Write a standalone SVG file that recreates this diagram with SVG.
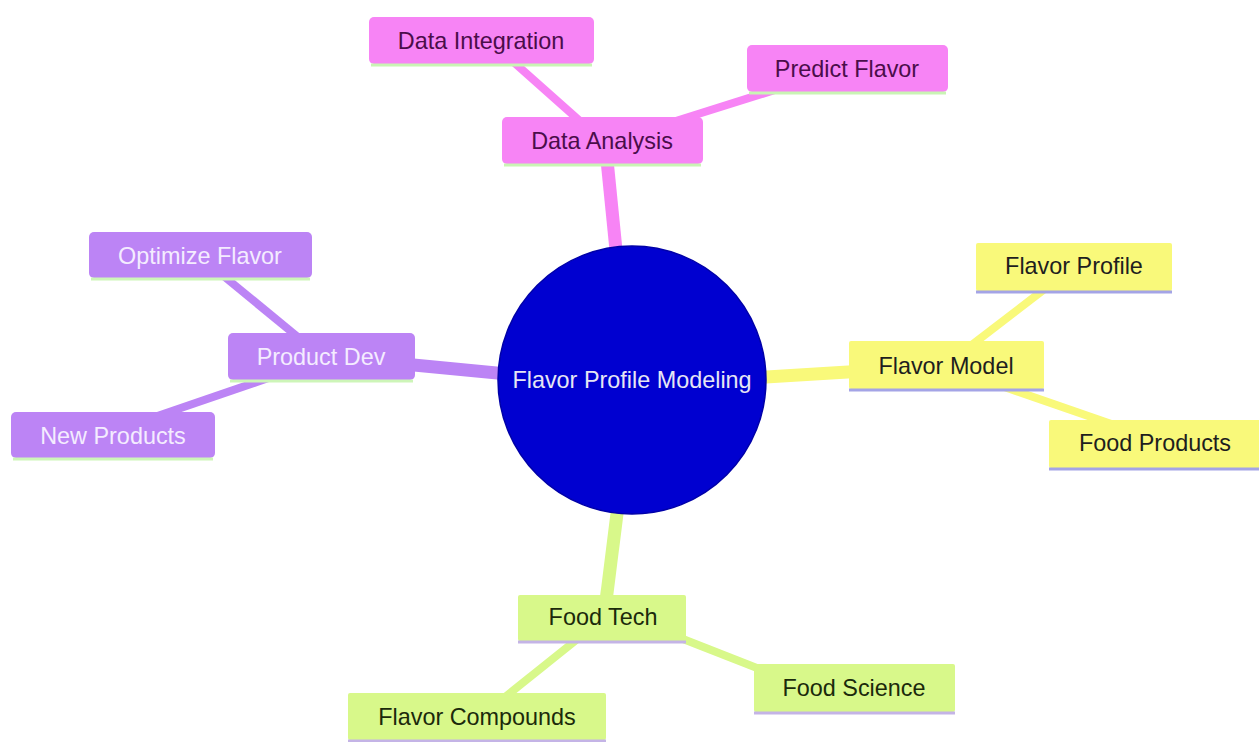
<svg xmlns="http://www.w3.org/2000/svg" width="1259" height="742" viewBox="0 0 1259 742">
<style>
text{font-family:"Liberation Sans",Arial,sans-serif;font-size:23.4px;text-anchor:middle;dominant-baseline:central}
.pk rect{fill:#f784f5}.pk text{fill:#4a0d4a}.pk line{stroke:#c9f4b4}
.pu rect{fill:#bc84f5}.pu text{fill:#f4ecff}.pu line{stroke:#cdf5b8}
.ye rect{fill:#f9f97a}.ye text{fill:#1e1e1e}.ye line{stroke:#a4a4e6}
.gr rect{fill:#d8f88a}.gr text{fill:#1b2a0b}.gr line{stroke:#c4b4e6}
.node line{stroke-width:3}
#edges line{stroke-linecap:butt;fill:none}
.e0{stroke-width:13}.e1{stroke-width:8}
.cpk{stroke:#f784f5}.cpu{stroke:#bc84f5}.cye{stroke:#f9f97a}.cgr{stroke:#d8f88a}
</style>
<rect width="1259" height="742" fill="#ffffff"/>
<g id="edges">
<line class="e0 cpk" x1="605" y1="140" x2="621" y2="300"/>
<line class="e0 cpu" x1="320" y1="356" x2="560" y2="379"/>
<line class="e0 cye" x1="700" y1="381" x2="946" y2="366"/>
<line class="e0 cgr" x1="625" y1="450" x2="604" y2="617"/>
<line class="e1 cpk" x1="590" y1="130" x2="500" y2="50"/>
<line class="e1 cpk" x1="660" y1="126" x2="800" y2="82"/>
<line class="e1 cpu" x1="310" y1="347" x2="215" y2="269"/>
<line class="e1 cpu" x1="280" y1="374" x2="140" y2="422"/>
<line class="e1 cye" x1="960" y1="354" x2="1055" y2="281"/>
<line class="e1 cye" x1="990" y1="382" x2="1120" y2="427"/>
<line class="e1 cgr" x1="660" y1="630" x2="780" y2="677"/>
<line class="e1 cgr" x1="590" y1="629" x2="490" y2="709"/>
</g>
<g id="root">
<circle cx="632" cy="380" r="134" fill="#0000d0" stroke="#0000a8" stroke-width="1.5"/>
<text x="632" y="380" fill="#e6e6f4">Flavor Profile Modeling</text>
</g>
<g id="data-analysis" class="node pk">
<rect x="502" y="117" width="201" height="47" rx="5"/>
<line x1="504" y1="165" x2="701" y2="165"/>
<text x="602" y="141">Data Analysis</text>
</g>
<g id="data-integration" class="node pk">
<rect x="369" y="17" width="225" height="47" rx="5"/>
<line x1="371" y1="65" x2="592" y2="65"/>
<text x="481" y="41">Data Integration</text>
</g>
<g id="predict-flavor" class="node pk">
<rect x="747" y="45" width="201" height="47" rx="5"/>
<line x1="749" y1="93" x2="946" y2="93"/>
<text x="847" y="69">Predict Flavor</text>
</g>
<g id="product-dev" class="node pu">
<rect x="228" y="333" width="187" height="47" rx="5"/>
<line x1="230" y1="381" x2="413" y2="381"/>
<text x="321" y="357">Product Dev</text>
</g>
<g id="optimize-flavor" class="node pu">
<rect x="89" y="232" width="223" height="46" rx="5"/>
<line x1="91" y1="279" x2="310" y2="279"/>
<text x="200" y="256">Optimize Flavor</text>
</g>
<g id="new-products" class="node pu">
<rect x="11" y="412" width="204" height="46" rx="5"/>
<line x1="13" y1="459" x2="213" y2="459"/>
<text x="113" y="436">New Products</text>
</g>
<g id="flavor-model" class="node ye">
<rect x="849" y="341" width="195" height="48" rx="2"/>
<line x1="849" y1="390" x2="1044" y2="390"/>
<text x="946" y="366">Flavor Model</text>
</g>
<g id="flavor-profile" class="node ye">
<rect x="976" y="243" width="196" height="48" rx="2"/>
<line x1="976" y1="292" x2="1172" y2="292"/>
<text x="1074" y="266">Flavor Profile</text>
</g>
<g id="food-products" class="node ye">
<rect x="1049" y="420" width="212" height="48" rx="2"/>
<line x1="1049" y1="469" x2="1261" y2="469"/>
<text x="1155" y="443">Food Products</text>
</g>
<g id="food-tech" class="node gr">
<rect x="518" y="595" width="168" height="46" rx="2"/>
<line x1="518" y1="642" x2="686" y2="642"/>
<text x="603" y="617">Food Tech</text>
</g>
<g id="food-science" class="node gr">
<rect x="754" y="664" width="201" height="48" rx="2"/>
<line x1="754" y1="713" x2="955" y2="713"/>
<text x="854" y="688">Food Science</text>
</g>
<g id="flavor-compounds" class="node gr">
<rect x="348" y="693" width="258" height="47" rx="2"/>
<line x1="348" y1="741" x2="606" y2="741"/>
<text x="477" y="717">Flavor Compounds</text>
</g>
</svg>
